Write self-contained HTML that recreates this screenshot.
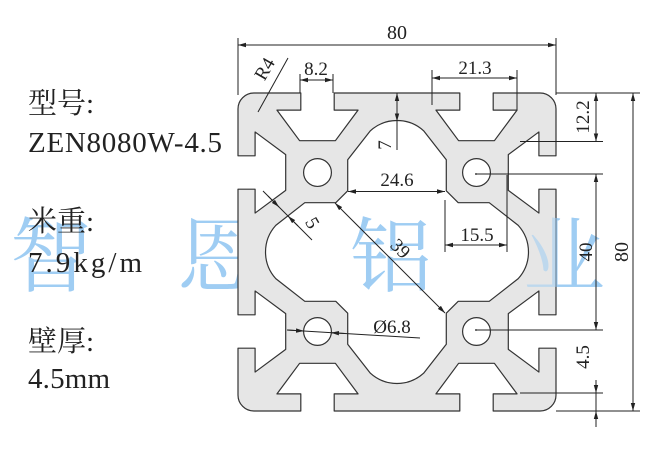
<!DOCTYPE html>
<html><head><meta charset="utf-8"><style>
html,body{margin:0;padding:0;background:#fff;}
svg{display:block;}
.t{font-family:"Liberation Serif","Noto Serif CJK SC",serif;font-size:19px;fill:#222;}
.lbl{font-family:"Liberation Serif","Noto Serif CJK SC",serif;font-size:29px;fill:#222;}
.cj{font-family:"Liberation Serif","Noto Serif CJK SC",serif;font-size:29px;fill:#222;}
.wm{font-family:"Noto Serif CJK SC","Noto Sans CJK SC",serif;font-size:82px;fill:#9fcdf3;}
</style></head><body>
<svg width="660" height="456" viewBox="0 0 660 456" xmlns="http://www.w3.org/2000/svg">
<defs>
<marker id="a" markerWidth="8" markerHeight="6" refX="8" refY="3" orient="auto-start-reverse" markerUnits="userSpaceOnUse"><path d="M0,0.8 L8,3 L0,5.2Z" fill="#222"/></marker>
</defs>
<g class="wm">
<text x="10" y="285">智</text>
<text x="177" y="285">恩</text>
<text x="350" y="285">铝</text>
<text x="523" y="285">业</text>
</g>
<g transform="translate(238,93) scale(3.975)" fill="#e6e6e6" stroke="#333" stroke-linejoin="round">
<path vector-effect="non-scaling-stroke" stroke-width="1.2" fill-rule="evenodd" d="
M4,0 L15.8,0 L15.8,4.3 L9.8,4.3 L15.5,12 L24.5,12 L30.2,4.3 L24.2,4.3 L24.2,0
L55.8,0 L55.8,4.3 L49.8,4.3 L55.5,12 L64.5,12 L70.2,4.3 L64.2,4.3 L64.2,0
L76,0 A4,4 0 0 1 80,4
L80,15.8 L75.7,15.8 L75.7,9.8 L68,15.5 L68,24.5 L75.7,30.2 L75.7,24.2 L80,24.2
L80,55.8 L75.7,55.8 L75.7,49.8 L68,55.5 L68,64.5 L75.7,70.2 L75.7,64.2 L80,64.2
L80,76 A4,4 0 0 1 76,80
L64.2,80 L64.2,75.7 L70.2,75.7 L64.5,68 L55.5,68 L49.8,75.7 L55.8,75.7 L55.8,80
L24.2,80 L24.2,75.7 L30.2,75.7 L24.5,68 L15.5,68 L9.8,75.7 L15.8,75.7 L15.8,80
L4,80 A4,4 0 0 1 0,76
L0,64.2 L4.3,64.2 L4.3,70.2 L12,64.5 L12,55.5 L4.3,49.8 L4.3,55.8 L0,55.8
L0,24.2 L4.3,24.2 L4.3,30.2 L12,24.5 L12,15.5 L4.3,9.8 L4.3,15.8 L0,15.8
L0,4 A4,4 0 0 1 4,0 Z
M33.3,9.5 A10,10 0 0 1 46.7,9.5 L52.4,16.8 L52.4,24.6 L55.4,27.6 L63.2,27.6 L70.5,33.3
A10,10 0 0 1 70.5,46.7 L63.2,52.4 L55.4,52.4 L52.4,55.4 L52.4,63.2 L46.7,70.5
A10,10 0 0 1 33.3,70.5 L27.6,63.2 L27.6,55.4 L24.6,52.4 L16.8,52.4 L9.5,46.7
A10,10 0 0 1 9.5,33.3 L16.8,27.6 L24.6,27.6 L27.6,24.6 L27.6,16.8 Z"/>
<g fill="#fff">
<circle vector-effect="non-scaling-stroke" stroke-width="1.2" cx="20" cy="20" r="3.5"/>
<circle vector-effect="non-scaling-stroke" stroke-width="1.2" cx="60" cy="20" r="3.5"/>
<circle vector-effect="non-scaling-stroke" stroke-width="1.2" cx="20" cy="60" r="3.5"/>
<circle vector-effect="non-scaling-stroke" stroke-width="1.2" cx="60" cy="60" r="3.5"/>
</g>
</g>
<g class="wm" opacity="0.55">
<text x="350" y="285">铝</text>
<text x="523" y="285">业</text>
</g>
<g stroke="#222" stroke-width="1" fill="none">
<line x1="238" y1="38" x2="238" y2="95"/><line x1="556" y1="38" x2="556" y2="95"/>
<line x1="238" y1="45" x2="556" y2="45" marker-start="url(#a)" marker-end="url(#a)"/>
<line x1="258" y1="112" x2="288" y2="58"/>
<line x1="300" y1="74" x2="300" y2="93"/><line x1="333" y1="74" x2="333" y2="93"/>
<line x1="300" y1="80" x2="333" y2="80" marker-start="url(#a)" marker-end="url(#a)"/>
<line x1="432" y1="70" x2="432" y2="105"/><line x1="517" y1="70" x2="517" y2="110"/>
<line x1="432" y1="78" x2="517" y2="78" marker-start="url(#a)" marker-end="url(#a)"/>
<line x1="556" y1="93" x2="640" y2="93"/>
<line x1="520" y1="141.5" x2="603" y2="141.5"/>
<line x1="596" y1="93" x2="596" y2="141.5" marker-start="url(#a)" marker-end="url(#a)"/>
<line x1="476" y1="174" x2="603" y2="174"/>
<line x1="476" y1="330" x2="603" y2="330"/>
<line x1="596" y1="174" x2="596" y2="330" marker-start="url(#a)" marker-end="url(#a)"/>
<line x1="520" y1="393" x2="603" y2="393"/>
<line x1="556" y1="411" x2="640" y2="411"/>
<line x1="596" y1="380" x2="596" y2="393" marker-end="url(#a)"/>
<line x1="596" y1="427" x2="596" y2="411" marker-end="url(#a)"/>
<line x1="596" y1="393" x2="596" y2="411"/>
<line x1="633" y1="93" x2="633" y2="411" marker-start="url(#a)" marker-end="url(#a)"/>
<line x1="397" y1="93" x2="397" y2="121.5" marker-start="url(#a)" marker-end="url(#a)"/>
<line x1="397" y1="121.5" x2="397" y2="150"/>
<line x1="348" y1="191.5" x2="445" y2="191.5" marker-start="url(#a)" marker-end="url(#a)"/>
<line x1="445" y1="200" x2="445" y2="252"/><line x1="507" y1="175" x2="507" y2="252"/>
<line x1="445" y1="245" x2="507" y2="245" marker-start="url(#a)" marker-end="url(#a)"/>
<line x1="263" y1="191" x2="312" y2="240"/>
<line x1="268" y1="196" x2="279" y2="207" marker-end="url(#a)"/>
<line x1="298" y1="226" x2="288" y2="216" marker-end="url(#a)"/>
<line x1="335" y1="203" x2="445" y2="313" marker-start="url(#a)" marker-end="url(#a)"/>
<line x1="287" y1="330" x2="420" y2="338"/>
<line x1="287" y1="330" x2="304" y2="331" marker-end="url(#a)"/>
<line x1="345" y1="333.5" x2="331" y2="332.7" marker-end="url(#a)"/>
</g>
<circle cx="476" cy="174" r="1" fill="#444"/><circle cx="476" cy="330" r="1" fill="#444"/>
<g class="t">
<text x="397" y="39" text-anchor="middle" font-size="20">80</text>
<text x="316" y="75" text-anchor="middle">8.2</text>
<text x="475" y="74" text-anchor="middle">21.3</text>
<text x="397" y="186" text-anchor="middle">24.6</text>
<text x="477" y="241" text-anchor="middle">15.5</text>
<text transform="translate(270,72) rotate(-60)" text-anchor="middle">R4</text>
<text transform="translate(589,117) rotate(-90)" text-anchor="middle">12.2</text>
<text transform="translate(592,252) rotate(-90)" text-anchor="middle">40</text>
<text transform="translate(628,252) rotate(-90)" text-anchor="middle" font-size="20">80</text>
<text transform="translate(589,357) rotate(-90)" text-anchor="middle">4.5</text>
<text transform="translate(391,145) rotate(-90)" text-anchor="middle">7</text>
<text transform="translate(307,226) rotate(60)" text-anchor="middle">5</text>
<text transform="translate(396,253) rotate(45)" text-anchor="middle">39</text>
<text x="392" y="333" text-anchor="middle">Ø6.8</text>
</g>
<text class="cj" x="28" y="113">型号:</text>
<text class="lbl" x="28" y="152" textLength="194" lengthAdjust="spacing">ZEN8080W-4.5</text>
<text class="cj" x="28" y="231">米重:</text>
<text class="lbl" x="28" y="272" textLength="114" lengthAdjust="spacing">7.9kg/m</text>
<text class="cj" x="28" y="351">壁厚:</text>
<text class="lbl" x="28" y="388" textLength="82" lengthAdjust="spacing">4.5mm</text>
</svg>
</body></html>
